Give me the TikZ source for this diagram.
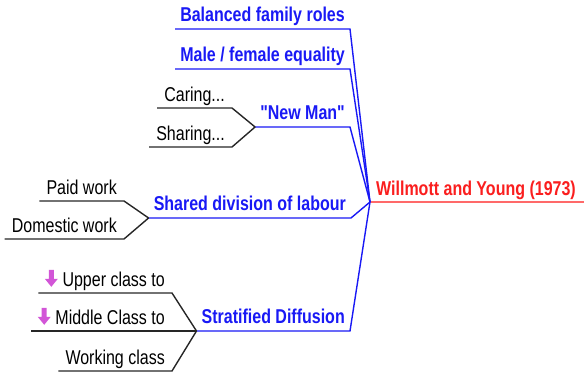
\documentclass[tikz,border=0pt]{standalone}
\usepackage{fontspec}
\newfontfamily\mapfont[FakeStretch=0.8]{Liberation Sans}
\usetikzlibrary{positioning}
\definecolor{mapblue}{RGB}{25,25,245}
\definecolor{mapred}{RGB}{250,30,30}
\definecolor{mapredline}{RGB}{255,105,105}
\definecolor{iconpink}{RGB}{210,85,215}

\tikzset{
  downicon/.pic={\fill[iconpink] (-2.5,0) -- (2.5,0) -- (2.5,9) -- (6.5,9) -- (0,17) -- (-6.5,9) -- (-2.5,9) -- cycle;}
}

\begin{document}
\begin{tikzpicture}[x=1pt,y=-1pt,
    topic/.style={font=\mapfont\fontsize{20}{20}\selectfont\bfseries, text=mapblue, inner xsep=5pt, inner ysep=0pt, text depth=7pt, anchor=south east},
    leaf/.style={font=\mapfont\fontsize{20}{20}\selectfont, inner xsep=7pt, inner ysep=0pt, text depth=6pt, anchor=south east},
    root/.style={font=\mapfont\fontsize{20}{20}\selectfont\bfseries, text=mapred, inner xsep=6pt, inner ysep=0pt, text depth=6pt, anchor=south west},
    bluelink/.style={draw=mapblue, line width=1.4pt},
    blacklink/.style={draw=black!85, line width=1.4pt}]
  \useasboundingbox (0,0) rectangle (584,374);
  \coordinate (hub) at (370,202);
  \coordinate (rootend) at (584,202);
  % main topic
  \node[root] (root) at (hub) {Willmott and Young (1973)};
  \draw[draw=mapredline, line width=2.2pt] (hub) -- (rootend);
  % blue branches
  \node[topic] (bal) at (350,29) {Balanced family roles};
  \node[topic] (mfe) at (350,69) {Male / female equality};
  \node[topic] (newman) at (350,127) {"New Man"};
  \node[topic] (shared) at (351,218) {Shared division of labour};
  \node[topic] (strat) at (350,331) {Stratified Diffusion};
  \foreach \n in {bal,mfe,newman,shared,strat}
    \draw[bluelink] (\n.south west) -- (\n.south east) -- (hub);
  % leaves
  \node[leaf] (caring) at (232,108) {Caring...};
  \node[leaf] (sharing) at (232,147) {Sharing...};
  \node[leaf] (paid) at (124,201) {Paid work};
  \node[leaf] (domestic) at (124,239) {Domestic work};
  \node[leaf] (upper) at (172,293) {\hspace{17pt}Upper class to};
  \node[leaf] (middle) at (172,331) {\hspace{17pt}Middle Class to};
  \node[leaf] (working) at (172,371) {Working class};
  \draw[blacklink] (caring.south west) -- (caring.south east) -- (newman.south west);
  \draw[blacklink] (sharing.south west) -- (sharing.south east) -- (newman.south west);
  \draw[blacklink] (paid.south west) -- (paid.south east) -- (shared.south west);
  \draw[blacklink] (domestic.south west) -- (domestic.south east) -- (shared.south west);
  \draw[blacklink] (upper.south west) -- (upper.south east) -- (strat.south west);
  \draw[blacklink] (middle.south west) -- (strat.south west);
  \draw[blacklink] (working.south west) -- (working.south east) -- (strat.south west);
  % icons
  \pic at ([xshift=13pt,yshift=17pt]upper.base west) {downicon};
  \pic at ([xshift=13pt,yshift=17pt]middle.base west) {downicon};
\end{tikzpicture}
\end{document}
